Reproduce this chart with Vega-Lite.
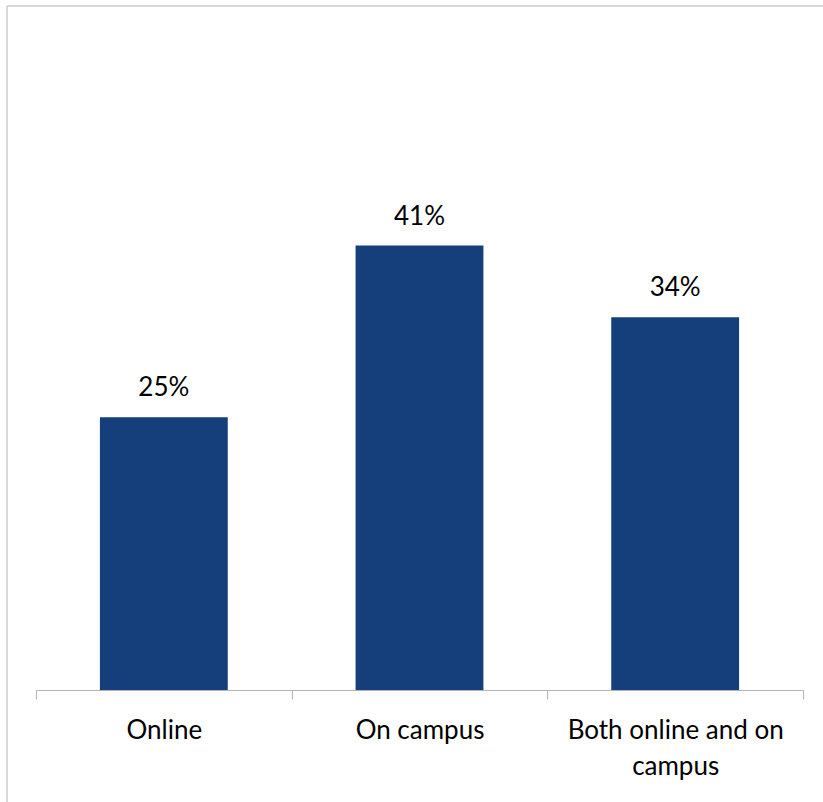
{
  "$schema": "https://vega.github.io/schema/vega-lite/v6.json",
  "autosize": {"type": "none"},
  "padding": {"left": 7, "top": 6, "right": 0, "bottom": 0},
  "width": 816,
  "height": 796,
  "background": "#ffffff",
  "config": {
    "view": {"stroke": "#d9d9d9", "strokeWidth": 2, "strokeDash": [816, 1612, 796, 0]},
    "font": "Lato"
  },
  "data": {
    "values": [
      {"mode": "Online", "share": 25.1, "label": "25%"},
      {"mode": "On campus", "share": 40.9, "label": "41%"},
      {"mode": "Both online and on campus", "share": 34.3, "label": "34%"}
    ]
  },
  "encoding": {
    "x": {
      "field": "mode",
      "type": "nominal",
      "sort": null,
      "scale": {"type": "band", "range": [29, 796], "paddingInner": 0, "paddingOuter": 0},
      "axis": {
        "title": null,
        "orient": "bottom",
        "offset": -112,
        "labelAngle": 0,
        "domainColor": "#b3b3b3",
        "tickColor": "#b3b3b3",
        "tickSize": 9,
        "tickBand": "extent",
        "labelFont": "Lato",
        "labelFontSize": 26,
        "labelColor": "#000000",
        "labelPadding": 18,
        "labelLineHeight": 36,
        "labelLimit": 0,
        "labelExpr": "datum.label == 'Both online and on campus' ? ['Both online and on', 'campus'] : datum.label"
      }
    },
    "y": {
      "field": "share",
      "type": "quantitative",
      "scale": {"domain": [0, 60], "range": [684, 32], "nice": false},
      "axis": null
    }
  },
  "layer": [
    {"mark": {"type": "bar", "color": "#153f7b", "width": {"band": 0.5}}},
    {
      "mark": {"type": "text", "baseline": "alphabetic", "dy": -21, "fontSize": 26, "font": "Lato", "color": "#000000"},
      "encoding": {"text": {"field": "label"}}
    }
  ]
}
